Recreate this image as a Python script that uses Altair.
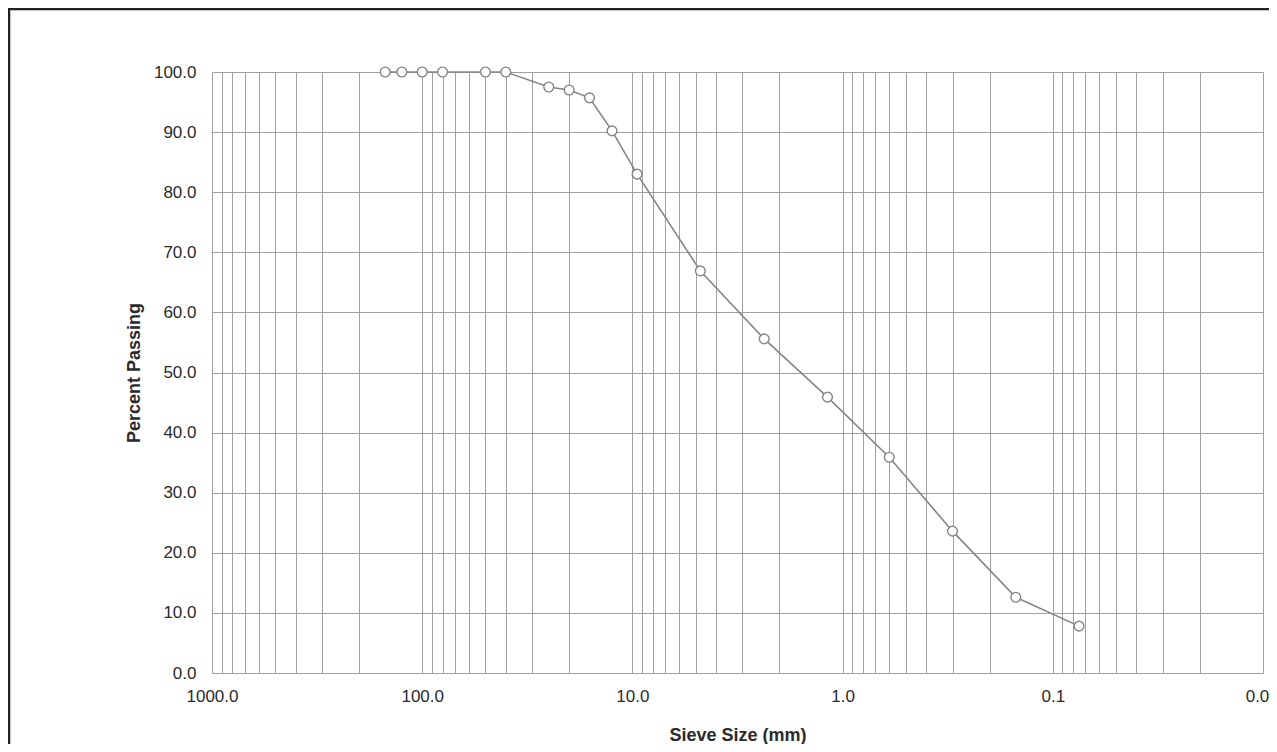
import altair as alt
import pandas as pd

# Sieve sizes (mm) and percent passing
sieve_mm = [150, 125, 100, 80, 50, 40, 25, 20, 16, 12.5, 9.5, 4.75, 2.36, 1.18, 0.6, 0.3, 0.15, 0.075]
percent_passing = [100.0, 100.0, 100.0, 100.0, 100.0, 100.0, 97.5, 97.0, 95.7, 90.2, 83.0, 66.9, 55.6, 45.9, 35.9, 23.6, 12.6, 7.8]

# axis tick / grid values
decade_labels = [1000, 100, 10, 1, 0.1, 0.01]
x_grid_values = [m * 10.0 ** k for k in range(-2, 3) for m in range(1, 10)] + [1000]
y_values = [0, 10, 20, 30, 40, 50, 60, 70, 80, 90, 100]

df = pd.DataFrame({"sieve": sieve_mm, "passing": percent_passing})

W, H = 1051, 601
FONT = "Liberation Sans"
GRID = "#a0a0a0"
LINE = "#858585"

x_enc = alt.X(
    "sieve:Q",
    scale=alt.Scale(type="log", domain=[0.01, 1000], reverse=True, nice=False),
    axis=alt.Axis(
        title="Sieve Size (mm)",
        values=x_grid_values,
        labelExpr="indexof([1000,100,10,1,0.1,0.01], datum.value) >= 0 ? format(datum.value, '.1f') : ''",
        labelOverlap=False,
        labelFlush=False,
        labelOffset={"condition": {"test": "datum.value < 0.015", "value": -6}, "value": 0},
        ticks=False,
        domain=False,
        grid=True,
        gridColor=GRID,
        gridWidth=1,
        labelPadding=15,
        titlePadding=22,
    ),
)
y_enc = alt.Y(
    "passing:Q",
    scale=alt.Scale(domain=[0, 100], nice=False),
    axis=alt.Axis(
        title="Percent Passing",
        values=y_values,
        format=".1f",
        ticks=False,
        domain=False,
        grid=True,
        gridColor=GRID,
        gridWidth=1,
        labelPadding=16,
        titlePadding=10,
    ),
)

base = alt.Chart(df)
line = base.mark_line(color=LINE, strokeWidth=1.6).encode(x=x_enc, y=y_enc)
points = base.mark_point(
    shape="circle", filled=True, fill="white", stroke=LINE, strokeWidth=1.4, size=95, opacity=1
).encode(x="sieve:Q", y="passing:Q")

frame = alt.Chart(pd.DataFrame({"a": [0]})).mark_rect(
    fill=None, stroke="#222222", strokeWidth=2.5, clip=False
).encode(
    x=alt.value(-203), x2=alt.value(W + 60), y=alt.value(-63), y2=alt.value(H + 120)
)

chart = (
    alt.layer(line, points, frame)
    .properties(
        width=W,
        height=H,
        padding={"left": 204, "top": 64, "right": 6, "bottom": 71},
        autosize=alt.AutoSizeParams(type="none"),
        background="white",
    )
    .configure_view(stroke=None)
    .configure_axis(
        labelFont=FONT,
        titleFont=FONT,
        labelFontSize=17,
        titleFontSize=18,
        titleFontWeight="bold",
        labelColor="#2a2a2a",
        titleColor="#2a2a2a",
    )
)

chart.save("out.html", embed_options={"renderer": "svg", "actions": False})
